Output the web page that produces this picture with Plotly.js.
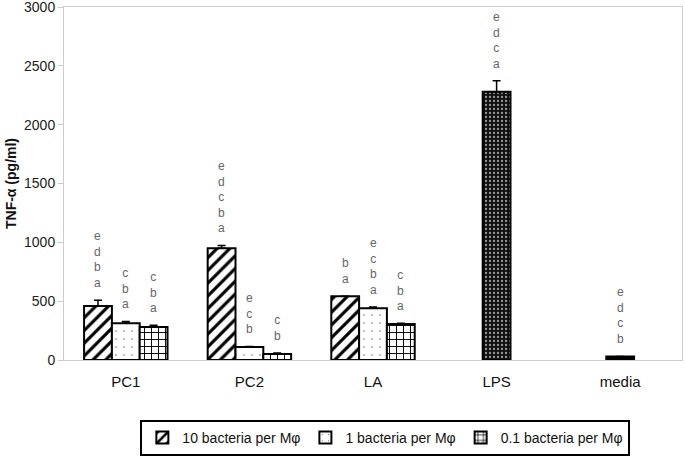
<!DOCTYPE html>
<html>
<head>
<meta charset="utf-8">
<script src="https://cdn.plot.ly/plotly-3.0.1.min.js"></script>
<style>
  body { margin: 0; background: #fff; }
  #plotArea { width: 685px; height: 467px; }
</style>
</head>
<body>
<div id="plotArea"></div>
<script>
var groups = ["PC1", "PC2", "LA", "LPS", "media"];
var yTicks = [0, 500, 1000, 1500, 2000, 2500, 3000];

var dose10 = [458, 949, 542, null, null];
var dose10Err = [50, 25, 0, 0, 0];
var dose10Letters = ["e d b a", "e d c b a", "b a", "", ""];

var dose1 = [313, 110, 440, null, null];
var dose1Err = [15, 5, 10, 0, 0];
var dose1Letters = ["c b a", "e c b", "e c b a", "", ""];

var dose01 = [280, 50, 305, null, null];
var dose01Err = [15, 10, 8, 0, 0];
var dose01Letters = ["c b a", "c b", "c b a", "", ""];

var lps = [null, null, null, 2279, null];
var lpsErr = [0, 0, 0, 95, 0];
var lpsLetters = ["", "", "", "e d c a", ""];

var media = [null, null, null, null, 30];
var mediaErr = [0, 0, 0, 0, 0];
var mediaLetters = ["", "", "", "", "e d c b"];

var barW = 0.225;
var offsets = [-1.5 * barW, -0.5 * barW, 0.5 * barW];

function errBar(arr) {
    return { type: "data", array: arr, symmetric: false, arrayminus: arr.map(function () { return 0; }),
             color: "black", thickness: 1.5, width: 4 };
}

var trace1 = {
    x: groups, y: dose10, type: "bar", name: "10 bacteria per M\u03c6",
    offset: offsets[0], width: barW,
    marker: { color: "white", line: { color: "black", width: 2 },
              pattern: { shape: "/", fgcolor: "black", bgcolor: "white", size: 9, solidity: 0.35 } },
    error_y: errBar(dose10Err)
};
var trace2 = {
    x: groups, y: dose1, type: "bar", name: "1 bacteria per M\u03c6",
    offset: offsets[1], width: barW,
    marker: { color: "white", line: { color: "black", width: 2 },
              pattern: { shape: ".", fgcolor: "#666", bgcolor: "white", size: 8, solidity: 0.03 } },
    error_y: errBar(dose1Err)
};
var trace3 = {
    x: groups, y: dose01, type: "bar", name: "0.1 bacteria per M\u03c6",
    offset: offsets[2], width: barW,
    marker: { color: "white", line: { color: "black", width: 2 },
              pattern: { shape: "+", fgcolor: "black", bgcolor: "white", size: 7, solidity: 0.25 } },
    error_y: errBar(dose01Err)
};
var trace4 = {
    x: groups, y: lps, type: "bar", showlegend: false,
    offset: offsets[1], width: barW,
    marker: { color: "#111", line: { color: "black", width: 2 },
              pattern: { shape: ".", fgcolor: "#999", bgcolor: "#111", size: 4, solidity: 0.25 } },
    error_y: errBar(lpsErr)
};
var trace5 = {
    x: groups, y: media, type: "bar", showlegend: false,
    offset: offsets[1], width: barW,
    marker: { color: "black", line: { color: "black", width: 2 } },
    error_y: errBar(mediaErr)
};

var annotations = [];
function addLetters(vals, errs, letters, off) {
    for (var i = 0; i < groups.length; i++) {
        if (!letters[i]) continue;
        annotations.push({
            x: i + off + barW / 2, y: vals[i] + errs[i], xref: "x", yref: "y",
            text: letters[i].split(" ").join("<br>"), showarrow: false,
            yanchor: "bottom", yshift: 8,
            font: { family: "Liberation Sans, Arial, sans-serif", size: 12, color: "#666" }
        });
    }
}
addLetters(dose10, dose10Err, dose10Letters, offsets[0]);
addLetters(dose1, dose1Err, dose1Letters, offsets[1]);
addLetters(dose01, dose01Err, dose01Letters, offsets[2]);
addLetters(lps, lpsErr, lpsLetters, offsets[1]);
addLetters(media, mediaErr, mediaLetters, offsets[1]);

var layout = {
    width: 685, height: 467,
    margin: { l: 64, r: 3, t: 7, b: 107 },
    barmode: "overlay",
    paper_bgcolor: "white", plot_bgcolor: "white",
    font: { family: "Liberation Sans, Arial, sans-serif", size: 13, color: "#222" },
    xaxis: {
        type: "category", range: [-0.5, 4.5],
        showline: true, linecolor: "#ccc", linewidth: 1, mirror: true,
        ticks: "", tickfont: { size: 15, color: "#111" }, ticklabelstandoff: 8
    },
    yaxis: {
        range: [0, 3000], tickmode: "array", tickvals: yTicks, ticktext: yTicks.map(String),
        ticklabeloverflow: "allow",
        showgrid: false, zeroline: false,
        showline: true, linecolor: "#ccc", linewidth: 1, mirror: true,
        ticks: "outside", tickcolor: "#ccc", ticklen: 5,
        tickfont: { size: 14, color: "#222" },
        title: { text: "<b>TNF-\u03b1 (pg/ml)</b>", font: { size: 14, color: "#111" }, standoff: 4 }
    },
    legend: {
        orientation: "h", x: 0.52, xanchor: "center", y: -0.17, yanchor: "top",
        bordercolor: "black", borderwidth: 2, bgcolor: "white",
        font: { size: 14, color: "#111" }, itemwidth: 30
    },
    annotations: annotations
};

Plotly.newPlot("plotArea", [trace1, trace2, trace3, trace4, trace5], layout, { displayModeBar: false });
</script>
</body>
</html>
